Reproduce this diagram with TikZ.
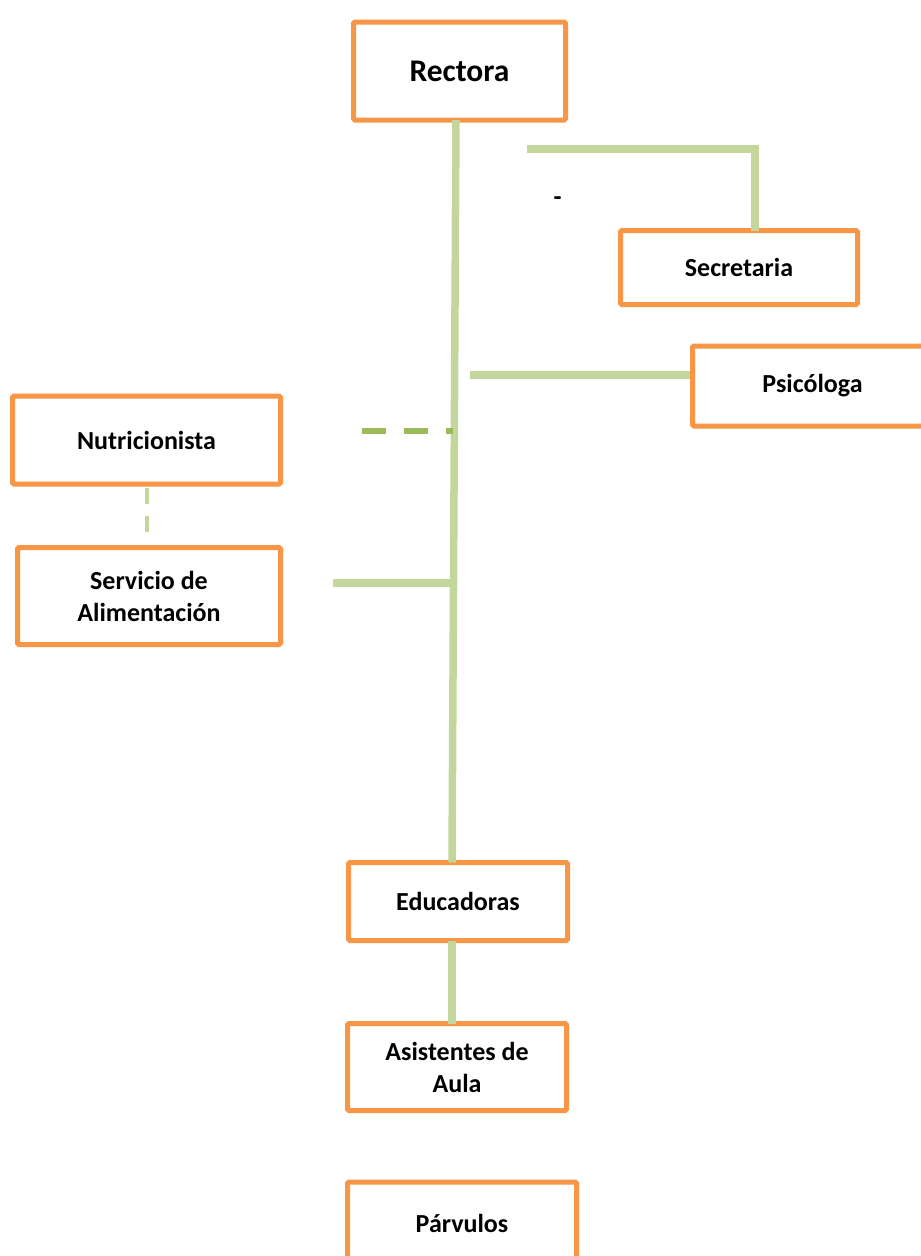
\documentclass[tikz,border=0pt]{standalone}
\usepackage{fontspec}
\setmainfont{Carlito}
\definecolor{boxorange}{HTML}{F79646}
\definecolor{lightgreen}{HTML}{C3D69B}
\definecolor{darkgreen}{HTML}{9BBB59}
\begin{document}
\begin{tikzpicture}[x=1pt,y=-1pt,
  orgbox/.style={draw=boxorange, line width=5pt, rounded corners=1.5pt, fill=white,
    align=center, inner sep=0pt, font=\bfseries\fontsize{26}{32}\selectfont},
  link/.style={draw=lightgreen, line width=7.5pt},
  dlink/.style={draw=darkgreen, line width=6pt, dash pattern=on 24pt off 18pt},
  vdlink/.style={draw=lightgreen, line width=4pt, dash pattern=on 16pt off 12pt}]
\useasboundingbox (0,0) rectangle (921,1256);
\clip (0,0) rectangle (921,1256);

% free connector ends
\coordinate (secS) at (527,149);
\coordinate (psiS) at (470,375);
\coordinate (nutS) at (362,431);
\coordinate (nutE) at (453,431);
\coordinate (serS) at (333,583);
\coordinate (serE) at (453,583);
\coordinate (ndA) at (147,488);
\coordinate (ndB) at (147,532);

% boxes
\node[orgbox, minimum width=212pt, minimum height=98pt,
  font=\bfseries\fontsize{31.5}{38}\selectfont] (rect) at (459.5,71) {Rectora};
\node[orgbox, minimum width=237pt, minimum height=74pt] (sec) at (739,267.5) {Secretaria};
\node[orgbox, minimum width=240pt, minimum height=80pt] (psi) at (812.5,386) {Psicóloga};
\node[orgbox, minimum width=268pt, minimum height=88pt] (nut) at (146.5,440) {Nutricionista};
\node[orgbox, minimum width=263pt, minimum height=97pt] (ser) at (149,596) {Servicio de\\Alimentación};
\node[orgbox, minimum width=219pt, minimum height=78pt] (edu) at (458,901.5) {Educadoras};
\node[orgbox, minimum width=219pt, minimum height=87pt] (asi) at (457,1067) {Asistentes de\\Aula};
\node[orgbox, minimum width=229pt, minimum height=82pt] (par) at (462,1223) {Párvulos};

\node[inner sep=0pt, font=\bfseries\fontsize{26}{32}\selectfont] (dash) at (557.5,200.8) {-};

% connectors
\coordinate (psiW) at (psi.west);
\draw[link] ([xshift=-3.5pt,yshift=2.5pt]rect.south) -- ([xshift=-6pt,yshift=-2.5pt]edu.north);
\draw[link] (secS) -| ([xshift=16pt,yshift=-2.5pt]sec.north);
\draw[link] (psiS) -- (psiS -| psiW);
\draw[dlink] (nutS) -- (nutE);
\draw[link] (serS) -- (serE);
\draw[vdlink] (ndA) -- (ndB);
\draw[link] ([xshift=-6pt,yshift=2.5pt]edu.south) -- ([xshift=-5pt,yshift=-2.5pt]asi.north);
\end{tikzpicture}
\end{document}
